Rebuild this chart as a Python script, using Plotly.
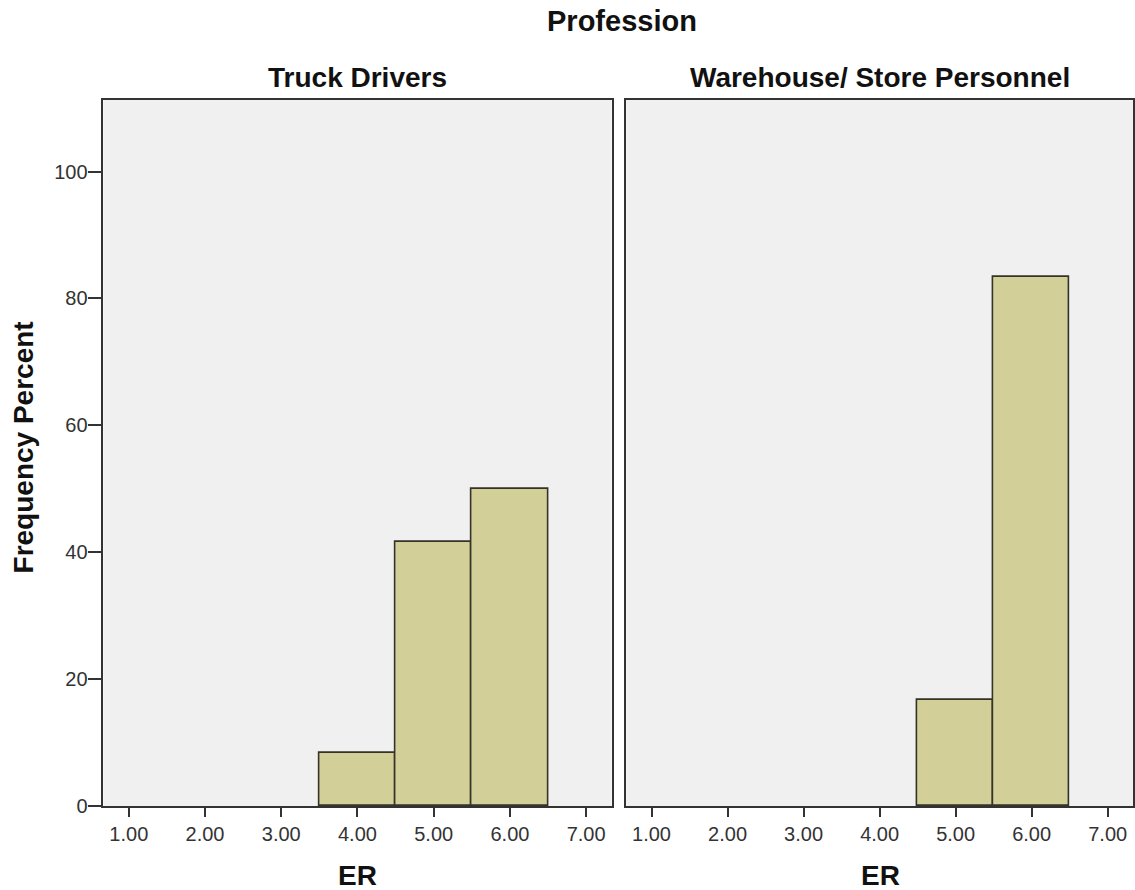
import plotly.graph_objects as go

# Data
bin_centers = [1, 2, 3, 4, 5, 6, 7]
truck_x = [4, 5, 6]
truck_pct = [8.33, 41.67, 50.0]
ware_x = [5, 6]
ware_pct = [16.67, 83.33]
y_ticks = [0, 20, 40, 60, 80, 100]
x_tick_labels = ["1.00", "2.00", "3.00", "4.00", "5.00", "6.00", "7.00"]
panel_titles = ["Truck Drivers", "Warehouse/ Store Personnel"]

W, H = 1135, 890
FIG_H = 900
FILL = "#D3CF98"
EDGE = "#333328"
FONT = "Liberation Sans, Arial, sans-serif"
TICKFS = 20
TITLEFS = 28

fig = go.Figure()
fig.add_trace(go.Bar(x=truck_x, y=truck_pct, width=1, marker=dict(color=FILL, line=dict(color=EDGE, width=1.6)),
                     xaxis="x", yaxis="y", showlegend=False))
fig.add_trace(go.Bar(x=ware_x, y=ware_pct, width=1, marker=dict(color=FILL, line=dict(color=EDGE, width=1.6)),
                     xaxis="x2", yaxis="y2", showlegend=False))

def px_x(p):
    return p / W

def px_y(p):
    return 1 - p / H

ydom = [px_y(807), px_y(100)]
xdom1 = [px_x(103.6), px_x(612.6)]
xdom2 = [px_x(627.3), 1.0]

xcommon = dict(range=[0.667, 7.333], tickvals=bin_centers, ticktext=x_tick_labels,
               ticks="outside", ticklen=9, tickwidth=1.6, tickcolor="#333",
               showline=True, linecolor="#333", linewidth=1.6, mirror=True,
               showgrid=False, zeroline=False, fixedrange=True,
               tickfont=dict(family=FONT, size=TICKFS, color="#333"))
ycommon = dict(range=[0, 111.3], tickvals=y_ticks,
               showline=True, linecolor="#333", linewidth=1.6, mirror=True,
               showgrid=False, zeroline=False, fixedrange=True,
               tickfont=dict(family=FONT, size=TICKFS, color="#333"))

fig.update_layout(
    width=W, height=FIG_H,
    margin=dict(l=0, r=0, t=0, b=0),
    paper_bgcolor="white",
    plot_bgcolor="#F0F0F0",
    bargap=0,
    xaxis=dict(domain=xdom1, anchor="y", **xcommon),
    yaxis=dict(domain=ydom, anchor="x", ticks="outside", ticklen=14, tickwidth=1.6, tickcolor="#333",
               ticklabelstandoff=-4, **ycommon),
    xaxis2=dict(domain=xdom2, anchor="y2", **xcommon),
    yaxis2=dict(domain=ydom, anchor="x2", showticklabels=False, ticks="", **ycommon),
)

ann = []
ann.append(dict(text="<b>Profession</b>", x=px_x(623), y=px_y(21), xref="paper", yref="paper",
                showarrow=False, font=dict(family=FONT, size=29, color="#111"), xanchor="center", yanchor="middle"))
for t, cx in zip(panel_titles, [358.5, 882]):
    ann.append(dict(text=f"<b>{t}</b>", x=px_x(cx), y=px_y(78), xref="paper", yref="paper",
                    showarrow=False, font=dict(family=FONT, size=TITLEFS, color="#111"), xanchor="center", yanchor="middle"))
for cx in [358, 882]:
    ann.append(dict(text="<b>ER</b>", x=px_x(cx), y=px_y(876), xref="paper", yref="paper",
                    showarrow=False, font=dict(family=FONT, size=28, color="#111"), xanchor="center", yanchor="middle"))
ann.append(dict(text="<b>Frequency Percent</b>", x=px_x(24), y=px_y(448), xref="paper", yref="paper",
                showarrow=False, textangle=-90, font=dict(family=FONT, size=TITLEFS, color="#111"),
                xanchor="center", yanchor="middle"))
fig.update_layout(annotations=ann)

post = ("document.documentElement.style.margin='0';document.body.style.margin='0';"
        "document.documentElement.style.overflow='hidden';document.body.style.overflow='hidden';"
        "var gd=document.getElementById('{plot_id}');gd.style.position='fixed';gd.style.left='0';gd.style.top='0';")
fig.write_html("out.html", config={"displayModeBar": False}, post_script=post)
